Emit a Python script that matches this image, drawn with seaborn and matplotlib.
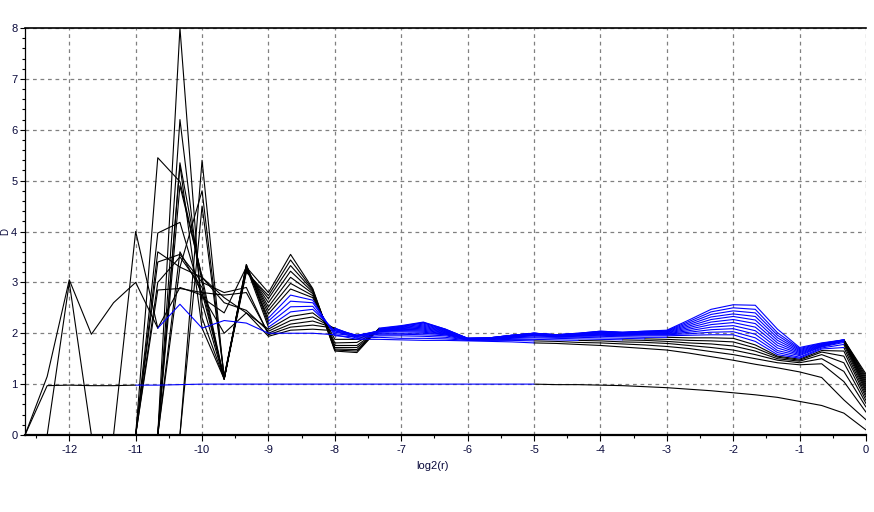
import numpy as np
import pandas as pd
import seaborn as sns
import matplotlib.pyplot as plt
from matplotlib.ticker import MultipleLocator

# ==========================================
# 0. data: correlation dimension D vs log2(r), one curve per embedding dim
# ==========================================
log2_r = [-12.667, -12.333, -12.0, -11.667, -11.333, -11.0, -10.667, -10.333, -10.0,
          -9.667, -9.333, -9.0, -8.667, -8.333, -8.0, -7.667, -7.333, -7.0, -6.667,
          -6.333, -6.0, -5.667, -5.333, -5.0, -4.667, -4.333, -4.0, -3.667, -3.333,
          -3.0, -2.667, -2.333, -2.0, -1.667, -1.333, -1.0, -0.667, -0.333, 0.0]

m1 = [0, 0.97, 0.98, 0.97, 0.97, 0.98, 0.98, 0.99, 1.0, 1.0, 1.0,
      1.0, 1.0, 1.0, 1.0, 1.0, 1.0, 1.0, 1.0, 1.0, 1.0, 1.0, 1.0, 1.0, 0.99, 0.99, 0.98, 0.97, 0.95,
      0.93, 0.90, 0.87, 0.83, 0.79, 0.74, 0.66, 0.58, 0.43, 0.10]
m2 = [0, 1.15, 3.05, 1.98, 2.6, 3.0, 2.1, 2.57, 2.1, 2.25, 2.2,
      2.0, 2.0, 2.0, 1.97, 1.88, 1.88, 1.87, 1.86, 1.86, 1.85, 1.84, 1.83, 1.81, 1.8, 1.78, 1.76, 1.73, 1.7,
      1.67, 1.61, 1.54, 1.47, 1.39, 1.32, 1.24, 1.13, 0.69, 0.30]
m3 = [0, 0, 3.0, 0, 0, 4.0, 2.1, 2.9, 2.75, 2.0, 2.4,
      1.94, 2.06, 2.08, 2.05, 1.9, 1.92, 1.9, 1.9, 1.89, 1.86, 1.86, 1.86, 1.85, 1.84, 1.82, 1.81, 1.79, 1.77,
      1.74, 1.70, 1.64, 1.58, 1.50, 1.42, 1.38, 1.40, 1.05, 0.45]
m4 = [0, 0, 0, 0, 0, 0, 3.4, 3.55, 3.0, 2.8, 2.9,
      1.97, 2.12, 2.16, 2.1, 1.92, 1.95, 1.95, 1.94, 1.92, 1.87, 1.87, 1.88, 1.88, 1.87, 1.86, 1.85, 1.83, 1.82,
      1.80, 1.76, 1.72, 1.67, 1.58, 1.47, 1.42, 1.50, 1.25, 0.55]
m5 = [0, 0, 0, 0, 0, 0, 2.85, 2.88, 2.8, 2.75, 2.8,
      2.0, 2.18, 2.24, 2.1, 1.94, 1.98, 1.98, 1.97, 1.95, 1.87, 1.88, 1.9, 1.91, 1.9, 1.89, 1.88, 1.87, 1.86,
      1.84, 1.81, 1.79, 1.75, 1.65, 1.50, 1.45, 1.58, 1.42, 0.62]
m6 = [0, 0, 0, 0, 0, 0, 3.6, 3.3, 3.1, 2.6, 2.45,
      2.04, 2.25, 2.32, 2.09, 1.95, 2.0, 2.0, 2.0, 1.97, 1.88, 1.88, 1.91, 1.93, 1.92, 1.92, 1.91, 1.9, 1.89,
      1.88, 1.86, 1.85, 1.83, 1.71, 1.53, 1.47, 1.63, 1.55, 0.68]
m7 = [0, 0, 0, 0, 0, 0, 5.45, 4.98, 3.1, 2.7, 2.4,
      2.08, 2.33, 2.4, 2.07, 1.96, 2.02, 2.03, 2.02, 1.98, 1.88, 1.88, 1.92, 1.95, 1.93, 1.94, 1.94, 1.93, 1.92,
      1.92, 1.91, 1.91, 1.90, 1.77, 1.55, 1.49, 1.66, 1.65, 0.74]
m8 = [0, 0, 0, 0, 0, 0, 3.97, 4.18, 2.7, 2.4, 3.3,
      2.12, 2.42, 2.47, 2.05, 1.96, 2.03, 2.05, 2.04, 1.99, 1.88, 1.89, 1.93, 1.96, 1.94, 1.95, 1.96, 1.95, 1.95,
      1.95, 1.96, 1.97, 1.97, 1.84, 1.58, 1.51, 1.69, 1.72, 0.79]
m9 = [0, 0, 0, 0, 0, 0, 3.0, 3.5, 2.9, 1.1, 3.35,
      2.18, 2.52, 2.53, 2.02, 1.96, 2.04, 2.06, 2.06, 2.0, 1.88, 1.89, 1.93, 1.97, 1.94, 1.96, 1.97, 1.96, 1.97,
      1.97, 1.99, 2.02, 2.03, 1.91, 1.62, 1.53, 1.71, 1.78, 0.84]
m10 = [0, 0, 0, 0, 0, 0, 0, 8.0, 2.3, 1.1, 3.35,
       2.24, 2.63, 2.6, 1.99, 1.95, 2.05, 2.07, 2.08, 2.01, 1.89, 1.89, 1.94, 1.98, 1.95, 1.96, 1.98, 1.97, 1.98,
       1.98, 2.02, 2.07, 2.09, 1.98, 1.66, 1.56, 1.73, 1.82, 0.88]
m11 = [0, 0, 0, 0, 0, 0, 0, 6.2, 2.6, 1.1, 3.3,
       2.3, 2.75, 2.65, 1.95, 1.93, 2.05, 2.08, 2.1, 2.02, 1.89, 1.89, 1.94, 1.98, 1.95, 1.97, 1.99, 1.98, 1.99,
       1.99, 2.05, 2.12, 2.15, 2.05, 1.71, 1.58, 1.74, 1.84, 0.92]
m12 = [0, 0, 0, 0, 0, 0, 0, 5.35, 3.0, 1.1, 3.3,
       2.38, 2.87, 2.7, 1.88, 1.88, 2.06, 2.09, 2.12, 2.03, 1.89, 1.9, 1.95, 1.99, 1.96, 1.97, 2.0, 1.99, 2.0,
       2.00, 2.08, 2.17, 2.21, 2.12, 1.76, 1.60, 1.75, 1.85, 0.96]
m13 = [0, 0, 0, 0, 0, 0, 0, 5.3, 2.1, 1.1, 3.3,
       2.45, 2.98, 2.74, 1.81, 1.82, 2.06, 2.1, 2.14, 2.04, 1.89, 1.9, 1.95, 1.99, 1.96, 1.98, 2.01, 2.0, 2.01,
       2.01, 2.11, 2.22, 2.27, 2.19, 1.81, 1.62, 1.76, 1.86, 1.00]
m14 = [0, 0, 0, 0, 0, 0, 0, 4.9, 3.1, 1.1, 3.28,
       2.52, 3.1, 2.78, 1.76, 1.76, 2.07, 2.11, 2.16, 2.05, 1.9, 1.9, 1.95, 2.0, 1.96, 1.98, 2.02, 2.0, 2.02,
       2.02, 2.14, 2.27, 2.33, 2.26, 1.86, 1.64, 1.77, 1.86, 1.04]
m15 = [0, 0, 0, 0, 0, 0, 0, 3.6, 2.8, 1.12, 3.25,
       2.6, 3.22, 2.81, 1.72, 1.72, 2.07, 2.12, 2.18, 2.06, 1.9, 1.91, 1.96, 2.0, 1.97, 1.99, 2.03, 2.01, 2.03,
       2.03, 2.17, 2.32, 2.38, 2.33, 1.91, 1.66, 1.78, 1.87, 1.08]
m16 = [0, 0, 0, 0, 0, 0, 0, 3.3, 4.8, 1.15, 3.22,
       2.68, 3.33, 2.84, 1.69, 1.68, 2.08, 2.13, 2.2, 2.07, 1.9, 1.91, 1.96, 2.0, 1.97, 1.99, 2.03, 2.01, 2.03,
       2.04, 2.20, 2.37, 2.44, 2.40, 1.96, 1.68, 1.79, 1.87, 1.12]
m17 = [0, 0, 0, 0, 0, 0, 0, 0, 5.4, 1.1, 3.2,
       2.74, 3.44, 2.86, 1.67, 1.65, 2.09, 2.14, 2.21, 2.08, 1.9, 1.91, 1.96, 2.0, 1.97, 2.0, 2.04, 2.02, 2.04,
       2.05, 2.23, 2.42, 2.50, 2.47, 2.01, 1.70, 1.80, 1.87, 1.16]
m18 = [0, 0, 0, 0, 0, 0, 0, 0, 4.5, 1.15, 3.3,
       2.8, 3.55, 2.88, 1.65, 1.62, 2.1, 2.15, 2.22, 2.08, 1.9, 1.91, 1.96, 2.0, 1.97, 2.0, 2.04, 2.02, 2.04,
       2.06, 2.26, 2.47, 2.56, 2.55, 2.08, 1.72, 1.81, 1.87, 1.20]

curves = [m1, m2, m3, m4, m5, m6, m7, m8, m9, m10, m11, m12, m13, m14, m15, m16, m17, m18]

# point-index range of the segments drawn in blue (scaling region), per curve
blue_span = [(5, 23), (6, 23), (14, 23), (14, 25), (14, 27), (14, 28), (14, 29)] \
    + [(11, 37)] * 4 + [(16, 37)] * 7

# ==========================================
# 1. split each curve into black/blue runs
# ==========================================
rows = []
seg_id = 0
for ci, ys in enumerate(curves):
    b0, b1 = blue_span[ci]
    seg_col = ['blue' if b0 <= j < b1 else 'black' for j in range(len(ys) - 1)]
    start = 0
    for j in range(1, len(seg_col) + 1):
        if j == len(seg_col) or seg_col[j] != seg_col[start]:
            for k in range(start, j + 1):
                rows.append({'x': log2_r[k], 'y': ys[k], 'seg': seg_id, 'col': seg_col[start]})
            seg_id += 1
            start = j
df = pd.DataFrame(rows)

# ==========================================
# 2. plot
# ==========================================
sns.set_theme(style='white')
plt.rcParams['font.family'] = ['Liberation Sans', 'DejaVu Sans']
text_col = '#0a0a3c'

fig, ax = plt.subplots(figsize=(8.74, 5.12), dpi=100)
fig.subplots_adjust(left=0.0286, right=0.9908, bottom=0.1504, top=0.9453)

ax.grid(True, which='major', linestyle=(0, (3, 3)), color='#808080', linewidth=0.9)
ax.set_axisbelow(True)

for col, c in [('black', '#000000'), ('blue', '#0000ff')]:
    sub = df[df['col'] == col]
    sns.lineplot(data=sub, x='x', y='y', units='seg', estimator=None, sort=False,
                 color=c, linewidth=0.8, ax=ax, legend=False)

ax.set_xlim(-12.667, 0)
ax.set_ylim(0, 8)
ax.xaxis.set_major_locator(MultipleLocator(1))
ax.xaxis.set_minor_locator(MultipleLocator(0.5))
ax.yaxis.set_major_locator(MultipleLocator(1))
ax.yaxis.set_minor_locator(MultipleLocator(0.2))
ax.tick_params(which='major', direction='out', length=4, width=0.8, color='black',
               labelsize=8, labelcolor=text_col, pad=3, bottom=True, left=True)
ax.tick_params(axis='y', which='major', length=3.5, pad=2)
ax.tick_params(which='minor', direction='out', length=2.5, width=0.8, color='black',
               bottom=True, left=True)
ax.set_xticklabels([f'{int(v)}' for v in ax.get_xticks()])

for s in ['left', 'top', 'bottom']:
    ax.spines[s].set_color('black')
ax.spines['left'].set_linewidth(0.9)
ax.spines['top'].set_linewidth(1.2)
ax.spines['bottom'].set_linewidth(1.6)
ax.spines['right'].set_visible(False)

ax.set_xlabel('log2(r)', fontsize=8, color=text_col, labelpad=4)
ax.xaxis.set_label_coords(0.484, -0.065)
ax.set_ylabel('D', fontsize=7, color=text_col)
ax.yaxis.label.set(ha='center', va='center', rotation_mode='anchor')
ax.yaxis.set_label_coords(-19.5 / 841, 0.5)

plt.savefig('out.png', dpi=100)
plt.close()
